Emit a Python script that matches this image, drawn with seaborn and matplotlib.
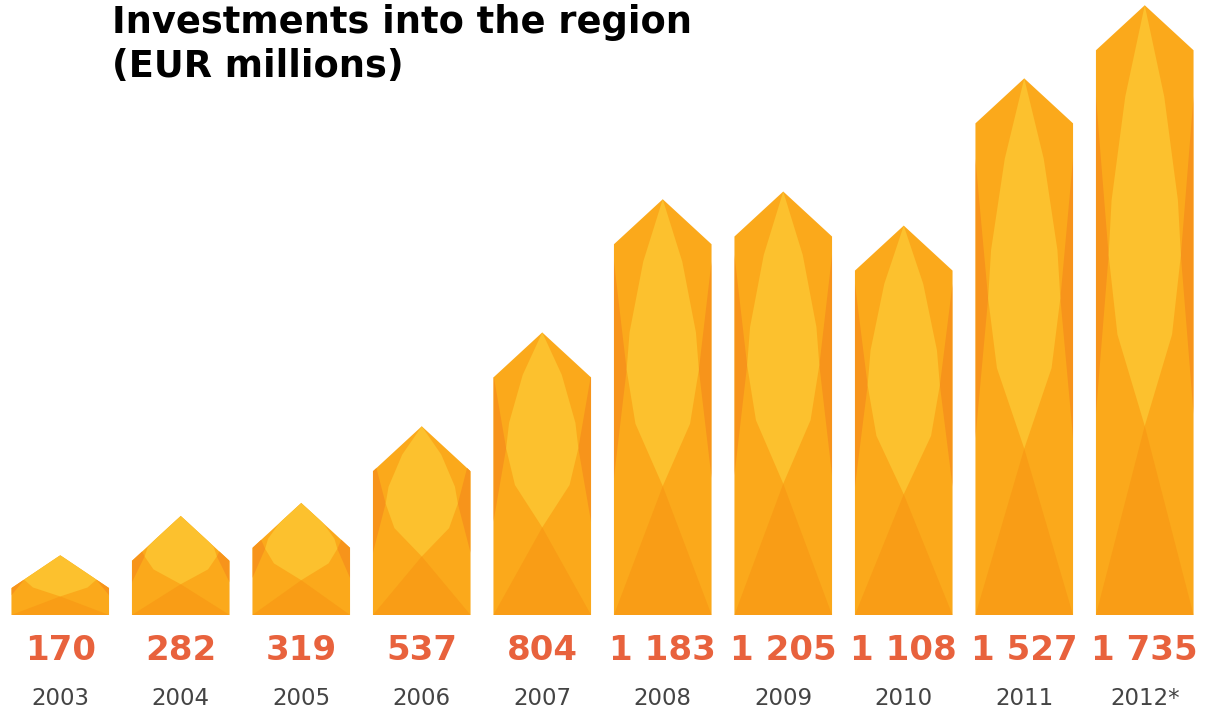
import numpy as np
import pandas as pd
import matplotlib
matplotlib.use("Agg")
import matplotlib.pyplot as plt
import seaborn as sns
from matplotlib.patches import Polygon
from matplotlib.transforms import blended_transform_factory

years = ["2003", "2004", "2005", "2006", "2007", "2008", "2009", "2010", "2011", "2012*"]
values = [170, 282, 319, 537, 804, 1183, 1205, 1108, 1527, 1735]
value_labels = ["170", "282", "319", "537", "804", "1 183", "1 205", "1 108", "1 527", "1 735"]

df = pd.DataFrame({"year": years, "value": values})

sns.set_style("white")
plt.rcParams["font.family"] = ["DejaVu Sans"]

fig = plt.figure(figsize=(12.05, 7.18), dpi=100)
ax = fig.add_axes([0.0, 0.1435, 1.0, 0.8565])
sns.barplot(data=df, x="year", y="value", color="#FBA91B", saturation=1, width=0.81, ax=ax)
ax.set_xlim(-0.5, 9.5)
ax.set_ylim(0, 1750)
sns.despine(left=True, bottom=True)
ax.set_yticks([])
ax.set_xlabel("")
ax.set_ylabel("")
ax.tick_params(axis="x", length=0, pad=52, labelsize=16.5, labelcolor="#444444")

# turn every bar into a "house" with the faceted fill
units_per_px = 1750 / (0.8565 * 718)
medium, light, dark, edge = "#FBA91B", "#FCC12E", "#F99D16", "#F7941B"
for p in list(ax.patches):
    x0, w, h = p.get_x(), p.get_width(), p.get_height()
    roof = min(45 * units_per_px, 0.55 * h)

    def pt(fx, fy):
        return (x0 + fx * w, fy * h)

    house = Polygon([(x0, 0), (x0 + w, 0), (x0 + w, h - roof), (x0 + w / 2, h), (x0, h - roof)],
                    closed=True, facecolor=medium, edgecolor="none", zorder=2)
    ax.add_patch(house)
    shapes = [
        ([pt(0, 0), pt(1, 0), pt(0.5, 0.31)], dark),
        ([pt(0, 0.33), pt(0.13, 0.59), pt(0, 0.85)], edge),
        ([pt(1, 0.33), pt(0.87, 0.59), pt(1, 0.85)], edge),
        ([pt(0.5, 1), pt(0.3, 0.85), pt(0.16, 0.68), pt(0.13, 0.59), pt(0.22, 0.46), pt(0.5, 0.31),
          pt(0.78, 0.46), pt(0.87, 0.59), pt(0.84, 0.68), pt(0.7, 0.85)], light),
    ]
    for verts, col in shapes:
        s = Polygon(verts, closed=True, facecolor=col, edgecolor="none", zorder=3)
        ax.add_patch(s)
        s.set_clip_path(house)
    p.set_visible(False)

trans = blended_transform_factory(ax.transData, ax.transAxes)
for i, lab in enumerate(value_labels):
    ax.text(i, -0.0585, lab, transform=trans, ha="center", va="center",
            fontsize=24.5, fontweight="bold", color="#E8623D")

fig.text(0.093, 0.994, "Investments into the region\n(EUR millions)", ha="left", va="top",
         fontsize=26.5, fontweight="bold", color="black", linespacing=1.22)

fig.savefig("out.png", dpi=100)
